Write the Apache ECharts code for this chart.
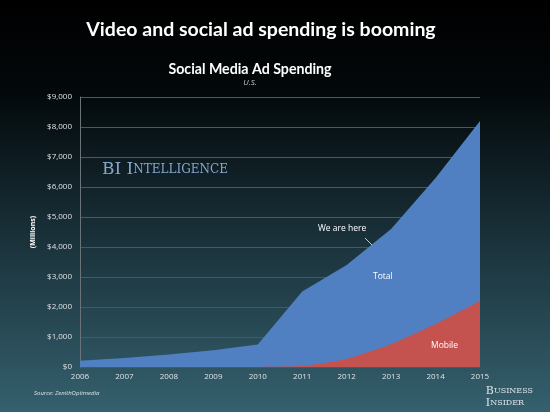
<!DOCTYPE html>
<html><head><meta charset="utf-8">
<script src="https://cdn.jsdelivr.net/npm/echarts@6/dist/echarts.min.js"></script>
<style>html,body{margin:0;padding:0;background:#000}#c{width:550px;height:412px}</style>
</head><body><div id="c"></div>
<script>
const years = ['2006','2007','2008','2009','2010','2011','2012','2013','2014','2015'];
const totalSpend = [210, 300, 420, 560, 750, 2520, 3400, 4600, 6300, 8200];
const mobileSpend = [0, 0, 0, 0, 0, 30, 270, 760, 1430, 2200];
const yTicks = [0, 1000, 2000, 3000, 4000, 5000, 6000, 7000, 8000, 9000];

const chart = echarts.init(document.getElementById('c'), null, {renderer:'canvas'});
const font = '"Open Sans", "Noto Sans", sans-serif';
const tfont = 'Lato, "Open Sans", sans-serif';
chart.setOption({
  animation: false,
  backgroundColor: new echarts.graphic.LinearGradient(0,0,0,1,[
    {offset:0,color:'#000000'},
    {offset:0.22,color:'#03080a'},
    {offset:0.55,color:'#182e36'},
    {offset:1,color:'#35606e'}
  ]),
  grid: {left:80, right:70, top:97, bottom:45},
  xAxis: {
    type:'category', data: years, boundaryGap:false,
    axisLine:{show:false}, axisTick:{show:false},
    axisLabel:{color:'#dde3e6', fontSize:8, fontFamily:font, margin:6, interval:0}
  },
  yAxis: {
    type:'value', min:0, max:9000, interval:1000,
    axisLine:{show:true, lineStyle:{color:'#6a7478', width:1}},
    axisTick:{show:false},
    splitLine:{lineStyle:{color:'#4f575a', width:1}},
    axisLabel:{color:'#dde3e6', fontSize:8, fontFamily:font, margin:8,
      formatter: v => '$' + v.toLocaleString('en-US')},
    name:'(Millions)', nameLocation:'middle', nameGap:34, nameRotate:90,
    nameTextStyle:{color:'#ffffff', fontSize:7, fontWeight:'bold', fontFamily:font}
  },
  series: [
    {name:'Total', type:'line', data: totalSpend, symbol:'none', smooth:false,
     lineStyle:{width:0}, areaStyle:{color:'#5180c2', opacity:1}, z:2},
    {name:'Mobile', type:'line', data: mobileSpend, symbol:'none', smooth:0.15,
     lineStyle:{width:0}, areaStyle:{color:'#c45350', opacity:1}, z:3}
  ],
  graphic: [
    {type:'text', x:261, y:20, z:10, style:{text:'Video and social ad spending is booming', fill:'#ffffff',
      fontSize:19.5, fontWeight:'bold', fontFamily:tfont, textAlign:'center'}},
    {type:'text', x:250, y:62, z:10, style:{text:'Social Media Ad Spending', fill:'#ffffff',
      fontSize:14.2, fontWeight:'bold', fontFamily:tfont, textAlign:'center'}},
    {type:'text', x:250, y:79, z:10, style:{text:'U.S.', fill:'#c8c8c8',
      fontSize:8, fontStyle:'italic', fontFamily:font, textAlign:'center'}},
    {type:'text', left:102, top:161, z:10, style:{
      text:'{a|BI I}{b|NTELLIGENCE}', rich:{
        a:{fontSize:17, fontFamily:'"DejaVu Serif", "Liberation Serif", serif', fill:'#84a6d0'},
        b:{fontSize:12, fontFamily:'"DejaVu Serif", "Liberation Serif", serif', fill:'#84a6d0'}
      }}},
    {type:'text', left:318, top:224, z:10, style:{text:'We are here', fill:'#ffffff', fontSize:8.5, fontFamily:font}},
    {type:'line', z:10, shape:{x1:365, y1:238, x2:372, y2:245}, style:{stroke:'#c8c8c8', lineWidth:1}},
    {type:'text', left:373, top:272, z:10, style:{text:'Total', fill:'#ffffff', fontSize:8.5, fontFamily:font}},
    {type:'text', left:431, top:341, z:10, style:{text:'Mobile', fill:'#ffffff', fontSize:8.5, fontFamily:font}},
    {type:'text', left:34, top:390, z:10, style:{text:'Source: ZenithOptimedia', fill:'#dde3e6', fontSize:6, fontStyle:'italic', fontFamily:font}},
    {type:'text', right:17, top:385, z:10, style:{
      text:'{a|B}{b|USINESS}\n{a|I}{b|NSIDER}', align:'left', lineHeight:12, rich:{
        a:{fontSize:11, fontFamily:'"DejaVu Serif", "Liberation Serif", serif', fill:'#dde4e8', lineHeight:12},
        b:{fontSize:8, fontFamily:'"DejaVu Serif", "Liberation Serif", serif', fill:'#dde4e8', lineHeight:12}
      }}}
  ]
});
</script></body></html>
